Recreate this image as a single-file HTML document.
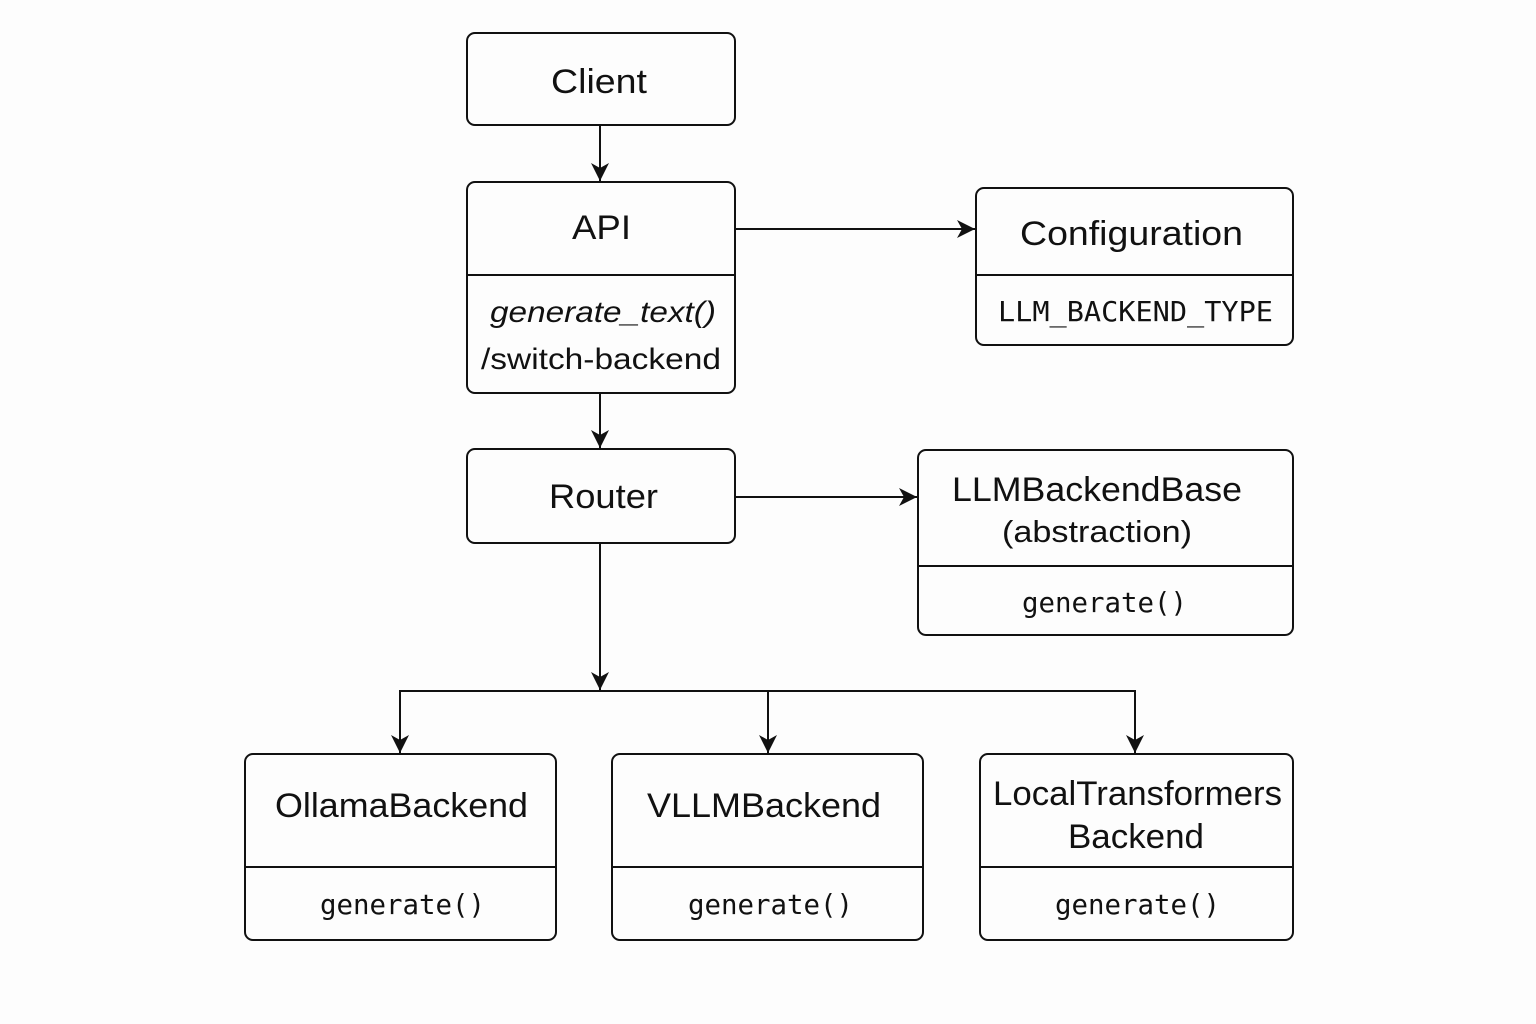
<!DOCTYPE html>
<html><head><meta charset="utf-8"><style>
html,body{margin:0;padding:0;background:#fdfdfd;}
svg{display:block;}
.s{font-family:"Liberation Sans","DejaVu Sans",sans-serif;fill:#111;}
.m{font-family:"DejaVu Sans Mono","Liberation Mono",monospace;fill:#111;}
</style></head><body>
<svg width="1536" height="1024" viewBox="0 0 1536 1024" xmlns="http://www.w3.org/2000/svg">
<defs>
<marker id="a" markerWidth="20" markerHeight="20" refX="18" refY="9" orient="auto" markerUnits="userSpaceOnUse">
<path d="M0,0 L18,9 L0,18 L5,9 Z" fill="#111"/>
</marker>
</defs>
<rect width="1536" height="1024" fill="#fdfdfd"/>
<g fill="none" stroke="#111" stroke-width="2">
<rect x="467" y="33" width="268" height="92" rx="8"/>
<rect x="467" y="182" width="268" height="211" rx="8"/>
<line x1="467" y1="275" x2="735" y2="275"/>
<rect x="467" y="449" width="268" height="94" rx="8"/>
<rect x="976" y="188" width="317" height="157" rx="8"/>
<line x1="976" y1="275" x2="1293" y2="275"/>
<rect x="918" y="450" width="375" height="185" rx="8"/>
<line x1="918" y1="566" x2="1293" y2="566"/>
<rect x="245" y="754" width="311" height="186" rx="8"/>
<line x1="245" y1="867" x2="556" y2="867"/>
<rect x="612" y="754" width="311" height="186" rx="8"/>
<line x1="612" y1="867" x2="923" y2="867"/>
<rect x="980" y="754" width="313" height="186" rx="8"/>
<line x1="980" y1="867" x2="1293" y2="867"/>
<line x1="600" y1="126" x2="600" y2="181" marker-end="url(#a)"/>
<line x1="600" y1="394" x2="600" y2="448" marker-end="url(#a)"/>
<line x1="736" y1="229" x2="975" y2="229" marker-end="url(#a)"/>
<line x1="736" y1="497" x2="917" y2="497" marker-end="url(#a)"/>
<line x1="600" y1="544" x2="600" y2="690" marker-end="url(#a)"/>
<polyline points="400,753 400,691 1135,691 1135,753"/>
<line x1="400" y1="700" x2="400" y2="753" marker-end="url(#a)"/>
<line x1="768" y1="691" x2="768" y2="753" marker-end="url(#a)"/>
<line x1="1135" y1="700" x2="1135" y2="753" marker-end="url(#a)"/>
</g>
<g class="s" font-size="34">
<text x="551" y="93" textLength="96" lengthAdjust="spacingAndGlyphs">Client</text>
<text x="572" y="239" textLength="59" lengthAdjust="spacingAndGlyphs">API</text>
<text x="490" y="322" font-size="30" font-style="italic" textLength="226" lengthAdjust="spacingAndGlyphs">generate_text()</text>
<text x="481" y="369" font-size="30" textLength="240" lengthAdjust="spacingAndGlyphs">/switch-backend</text>
<text x="549" y="508" textLength="109" lengthAdjust="spacingAndGlyphs">Router</text>
<text x="1020" y="245" textLength="223" lengthAdjust="spacingAndGlyphs">Configuration</text>
<text x="952" y="501" textLength="290" lengthAdjust="spacingAndGlyphs">LLMBackendBase</text>
<text x="1002" y="542" font-size="31" textLength="190" lengthAdjust="spacingAndGlyphs">(abstraction)</text>
<text x="275" y="817" textLength="253" lengthAdjust="spacingAndGlyphs">OllamaBackend</text>
<text x="647" y="817" textLength="234" lengthAdjust="spacingAndGlyphs">VLLMBackend</text>
<text x="993" y="805" textLength="289" lengthAdjust="spacingAndGlyphs">LocalTransformers</text>
<text x="1068" y="848" textLength="136" lengthAdjust="spacingAndGlyphs">Backend</text>
</g>
<g class="m" font-size="28">
<text x="998" y="321" textLength="275" lengthAdjust="spacingAndGlyphs">LLM_BACKEND_TYPE</text>
<text x="1022" y="612" textLength="165" lengthAdjust="spacingAndGlyphs">generate()</text>
<text x="320" y="914" textLength="165" lengthAdjust="spacingAndGlyphs">generate()</text>
<text x="688" y="914" textLength="165" lengthAdjust="spacingAndGlyphs">generate()</text>
<text x="1055" y="914" textLength="165" lengthAdjust="spacingAndGlyphs">generate()</text>
</g>
</svg>
</body></html>
